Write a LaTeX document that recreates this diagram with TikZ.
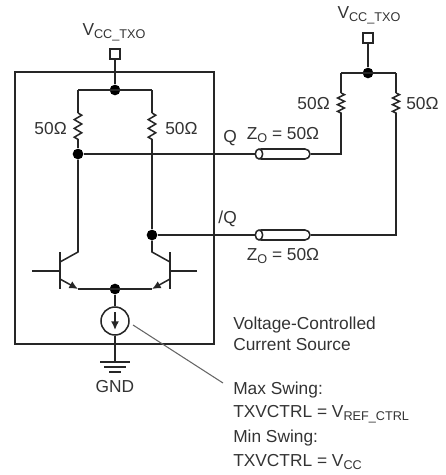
\documentclass[tikz,border=0pt]{standalone}
\usepackage{fontspec}
\setmainfont{Liberation Sans}
\usepackage{xcolor}
\usetikzlibrary{arrows.meta, positioning, shapes.misc, shapes.geometric, decorations.pathmorphing}
\definecolor{inkgray}{gray}{0.2}
\newcommand{\subtxt}[1]{\raisebox{-2.5pt}{\fontsize{9.5}{10}\selectfont #1}}

\begin{document}
\begin{tikzpicture}[
    x=0.75pt, y=-0.75pt,
    every node/.style={font=\fontsize{13}{15}\selectfont, text=inkgray},
    wire/.style={draw=black!85, line width=1.15pt},
    res/.style={wire, decorate, decoration={zigzag, amplitude=2.8pt, segment length=6.6pt}},
    resb/.style={wire, decorate, decoration={zigzag, amplitude=2.6pt, segment length=5pt}},
    dot/.style={circle, fill=black, inner sep=0pt, minimum size=8pt},
    pin/.style={draw=black!85, line width=1.15pt, fill=white, inner sep=0pt, minimum size=7.5pt},
    tube/.style={draw=black!85, line width=1.15pt, rounded rectangle, inner sep=0pt, minimum width=40.5pt, minimum height=7.5pt},
    tubeend/.style={draw=black!85, line width=1.15pt, ellipse, fill=white, inner sep=0pt, minimum width=5.5pt, minimum height=7.5pt},
    emit/.style={wire, -{Latex[length=6.5pt,width=6pt]}},
    label/.style={inner sep=0pt}
]
\useasboundingbox (0,0) rectangle (446,475);

% Device box
\node (box) [draw=black!85, line width=1.3pt, inner sep=0pt, minimum width=149.25pt, minimum height=204pt] at (114.5,208) {};

% Supply (device)
\node (vccin) [label] at (114,32) {V\subtxt{CC\_TXO}};
\node (pinin) [pin] at (115,54) {};
\node (topin) [dot] at (115,90) {};
\coordinate (tl) at (78,90);
\coordinate (tr) at (152,90);
\coordinate (r1a) at (78,113);
\coordinate (r1b) at (78,141);
\coordinate (r2a) at (152,113);
\coordinate (r2b) at (152,141);
\node (d1) [dot] at (78,154) {};
\node (d2) [dot] at (152,235) {};
\node [label, anchor=east] (r1lab) at (67,129) {50Ω};
\node [label, anchor=west] (r2lab) at (165,129) {50Ω};

\draw [wire] (pinin) -- (topin);
\draw [wire] (tl) -- (tr);
\draw [wire] (tl) -- (r1a);
\draw [wire] (tr) -- (r2a);
\draw [res] (r1a) -- (r1b);
\draw [res] (r2a) -- (r2b);
\draw [wire] (r1b) -- (d1);
\draw [wire] (r2b) -- (d2);

% Transistors
\coordinate (q1t) at (60,252);
\coordinate (q1b) at (60,289);
\coordinate (q1c) at (60,262);
\coordinate (q1e) at (60,279);
\coordinate (q1in) at (32,271);
\coordinate (q1m) at (60,271);
\coordinate (k1) at (78,252);
\coordinate (e1) at (78,289);
\coordinate (q2t) at (170,252);
\coordinate (q2b) at (170,289);
\coordinate (q2c) at (170,262);
\coordinate (q2e) at (170,279);
\coordinate (q2in) at (197,271);
\coordinate (q2m) at (170,271);
\coordinate (k2) at (152,252);
\coordinate (e2) at (152,289);
\node (tail) [dot] at (115,289) {};

\draw [wire] (q1t) -- (q1b);
\draw [wire] (q2t) -- (q2b);
\draw [wire] (q1in) -- (q1m);
\draw [wire] (q2in) -- (q2m);
\draw [wire] (d1) -- (k1) -- (q1c);
\draw [wire] (d2) -- (k2) -- (q2c);
\draw [emit] (q1e) -- (e1);
\draw [emit] (q2e) -- (e2);
\draw [wire] (e1) -- (e2);

% Current source and ground
\node (isrc) [circle, draw=black!85, line width=1.15pt, inner sep=0pt, minimum size=21pt] at (115,321) {};
\coordinate (iup) at (115,312);
\coordinate (idn) at (115,330);
\coordinate (gnd) at (115,362);
\coordinate (g1a) at (100,362);
\coordinate (g1b) at (130,362);
\coordinate (g2a) at (104,367);
\coordinate (g2b) at (126,367);
\coordinate (g3a) at (109,372);
\coordinate (g3b) at (121,372);
\node (gndlab) [label] at (115,387) {GND};

\draw [wire] (tail) -- (isrc);
\draw [wire] (isrc) -- (gnd);
\draw [wire, -{Latex[length=6.5pt,width=6pt]}] (iup) -- (idn);
\draw [wire] (g1a) -- (g1b);
\draw [wire] (g2a) -- (g2b);
\draw [wire] (g3a) -- (g3b);

% Transmission lines
\node (t1) [tube] at (283,154) {};
\node (t1end) [tubeend] at (259,154) {};
\node (t2) [tube] at (283,235) {};
\node (t2end) [tubeend] at (259,235) {};
\node [label, anchor=east] (qlab) at (237,138) {Q};
\node [label, anchor=east] (nqlab) at (237,219) {/Q};
\node [label] (z1) at (283,135) {Z\subtxt{O} = 50Ω};
\node [label] (z2) at (283,256) {Z\subtxt{O} = 50Ω};

\draw [wire] (d1) -- (t1end);
\draw [wire] (d2) -- (t2end);

% Far end
\node (vccout) [label] at (369,15) {V\subtxt{CC\_TXO}};
\node (pinout) [pin] at (368,38) {};
\node (topout) [dot] at (368,73) {};
\coordinate (ol) at (341,73);
\coordinate (or) at (396,73);
\coordinate (r3a) at (341,93);
\coordinate (r3b) at (341,115);
\coordinate (r4a) at (396,93);
\coordinate (r4b) at (396,115);
\node [label, anchor=east] (r3lab) at (330,104) {50Ω};
\node [label, anchor=west] (r4lab) at (406,104) {50Ω};

\draw [wire] (pinout) -- (topout);
\draw [wire] (ol) -- (or);
\draw [wire] (ol) -- (r3a);
\draw [wire] (or) -- (r4a);
\draw [resb] (r3a) -- (r3b);
\draw [resb] (r4a) -- (r4b);
\draw [wire] (t1) -| (r3b);
\draw [wire] (t2) -| (r4b);

% Notes
\node [label, anchor=west] (note1) at (233,325) {Voltage-Controlled};
\node [label, anchor=west] (note2) at (233,345) {Current Source};
\node [label, anchor=west] (note3) at (233,390) {Max Swing:};
\node [label, anchor=west] (note4) at (233,414) {TXVCTRL = V\subtxt{REF\_CTRL}};
\node [label, anchor=west] (note5) at (233,438) {Min Swing:};
\node [label, anchor=west] (note6) at (233,462) {TXVCTRL = V\subtxt{CC}};

\coordinate (leadin) at (133,325);
\coordinate (leadout) at (223,383);
\draw [draw=black!60, line width=0.8pt] (leadin) -- (leadout);

\end{tikzpicture}
\end{document}
